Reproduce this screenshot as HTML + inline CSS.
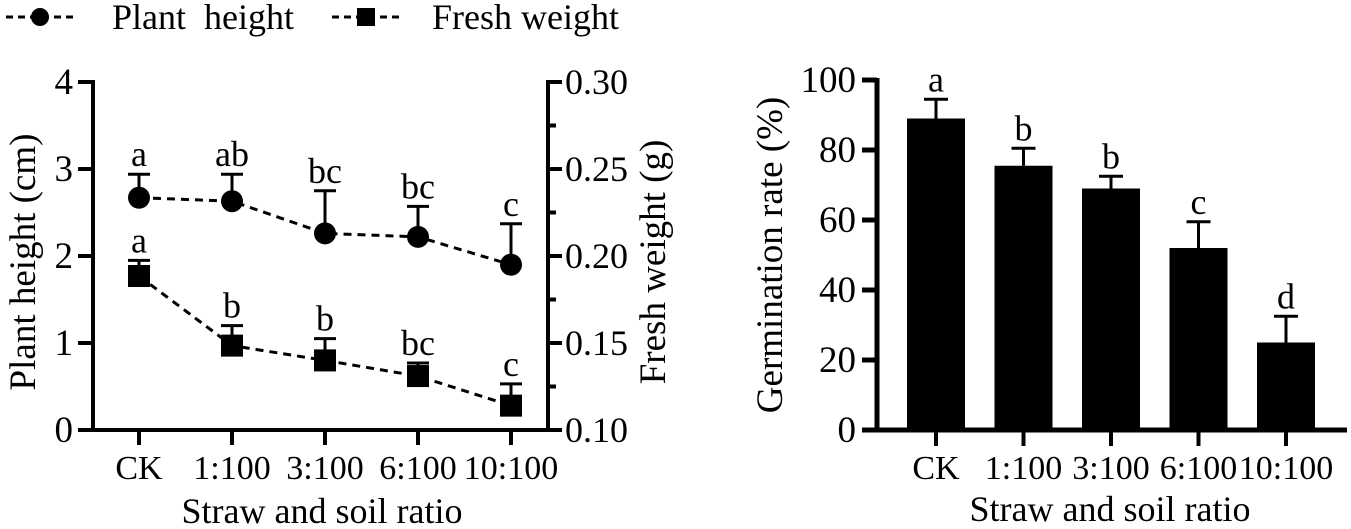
<!DOCTYPE html>
<html><head><meta charset="utf-8"><style>
body{margin:0;background:#fff;}
svg{display:block;font-family:"Liberation Serif",serif;}
</style></head><body>
<svg id="c" width="1351" height="529" viewBox="0 0 1351 529"></svg>
<script>
const categories=["CK","1:100","3:100","6:100","10:100"];
const plantHeight=[2.67,2.63,2.26,2.22,1.90];
const plantHeightErr=[0.27,0.31,0.49,0.35,0.47];
const plantHeightLetters=["a","ab","bc","bc","c"];
const freshWeight=[0.1885,0.1485,0.140,0.131,0.114];
const freshWeightErr=[0.009,0.0115,0.0125,0.0075,0.0125];
const freshWeightLetters=["a","b","b","bc","c"];
const germination=[89,75.5,69,52,25];
const germinationErr=[5.5,5,3.5,7.5,7.5];
const germinationLetters=["a","b","b","c","d"];
const leftTicks=[0,1,2,3,4];
const fwTicks=["0.10","0.15","0.20","0.25","0.30"];
const gTicks=[0,20,40,60,80,100];

const S=document.getElementById('c');
const NS='http://www.w3.org/2000/svg';
function el(t,a,txt){const e=document.createElementNS(NS,t);for(const k in a)e.setAttribute(k,a[k]);if(txt!==undefined)e.textContent=txt;S.appendChild(e);return e;}

const AX=548;
const lx=i=>139+i*93, ly=v=>430-v*87, fy=v=>430-(v-0.10)/0.20*348;
let e;
e=el('line',{x1:93,y1:80,x2:93,y2:432,stroke:'#000','stroke-width':4});

e=el('line',{x1:78,y1:430,x2:AX+2,y2:430,stroke:'#000','stroke-width':4});

e=el('line',{x1:AX,y1:80,x2:AX,y2:432,stroke:'#000','stroke-width':4});

leftTicks.forEach(v=>{
 el('line',{x1:78,y1:ly(v),x2:93,y2:ly(v),stroke:'#000','stroke-width':4});
 e=el('text',{x:73,y:ly(v)+12,'font-size':37,'text-anchor':'end'},String(v));
 
});
fwTicks.forEach((t,i)=>{
 const y=fy(parseFloat(t));
 el('line',{x1:AX,y1:y,x2:AX+14,y2:y,stroke:'#000','stroke-width':4});
 if(i<4)el('line',{x1:AX,y1:fy(parseFloat(t)+0.025),x2:AX+8,y2:fy(parseFloat(t)+0.025),stroke:'#000','stroke-width':4});
 e=el('text',{x:AX+17,y:y+12,'font-size':36},t);
 
});
categories.forEach((c,i)=>{
 el('line',{x1:lx(i),y1:430,x2:lx(i),y2:445,stroke:'#000','stroke-width':4});
 e=el('text',{x:lx(i),y:479,'font-size':34,'text-anchor':'middle'},c);
 
});
e=el('text',{x:322,y:523,'font-size':36,'text-anchor':'middle'},'Straw and soil ratio');

e=el('text',{x:0,y:0,'font-size':37,'text-anchor':'middle',transform:'translate(35,262) rotate(-90)'},'Plant height (cm)');

e=el('text',{x:0,y:0,'font-size':37,'text-anchor':'middle',transform:'translate(665,262) rotate(-90)'},'Fresh weight (g)');


e=el('polyline',{points:plantHeight.map((v,i)=>lx(i)+','+ly(v)).join(' '),fill:'none',stroke:'#000','stroke-width':3,'stroke-dasharray':'8,6'});

plantHeight.forEach((v,i)=>{
 const x=lx(i),top=ly(v+plantHeightErr[i]);
 el('line',{x1:x,y1:ly(v),x2:x,y2:top,stroke:'#000','stroke-width':3});
 el('line',{x1:x-11,y1:top,x2:x+11,y2:top,stroke:'#000','stroke-width':3});
 e=el('circle',{cx:x,cy:ly(v),r:11,fill:'#000'});
 
 e=el('text',{x:x,y:top-8,'font-size':36,'text-anchor':'middle'},plantHeightLetters[i]);
 
});
e=el('polyline',{points:freshWeight.map((v,i)=>lx(i)+','+fy(v)).join(' '),fill:'none',stroke:'#000','stroke-width':3,'stroke-dasharray':'8,6'});

freshWeight.forEach((v,i)=>{
 const x=lx(i),top=fy(v+freshWeightErr[i]);
 el('line',{x1:x,y1:fy(v),x2:x,y2:top,stroke:'#000','stroke-width':3});
 el('line',{x1:x-11,y1:top,x2:x+11,y2:top,stroke:'#000','stroke-width':3});
 e=el('rect',{x:x-11,y:fy(v)-11,width:22,height:22,fill:'#000'});
 
 e=el('text',{x:x,y:top-8,'font-size':36,'text-anchor':'middle'},freshWeightLetters[i]);
 
});

el('line',{x1:6,y1:17,x2:74,y2:17,stroke:'#000','stroke-width':3,'stroke-dasharray':'7,5'});
e=el('circle',{cx:40,cy:17,r:9,fill:'#000'});

e=el('text',{x:112,y:29,'font-size':36,style:'white-space:pre'},'Plant  height');

el('line',{x1:332,y1:17,x2:400,y2:17,stroke:'#000','stroke-width':3,'stroke-dasharray':'7,5'});
e=el('rect',{x:357,y:8,width:18,height:18,fill:'#000'});

e=el('text',{x:432,y:29,'font-size':36},'Fresh weight');


const gx=i=>936+i*87.5, gy=v=>430-v*3.5;
e=el('line',{x1:877,y1:78,x2:877,y2:432,stroke:'#000','stroke-width':5});

e=el('line',{x1:862,y1:430,x2:1347,y2:430,stroke:'#000','stroke-width':5});

gTicks.forEach(v=>{
 el('line',{x1:862,y1:gy(v),x2:877,y2:gy(v),stroke:'#000','stroke-width':5});
 e=el('text',{x:856,y:gy(v)+12,'font-size':37,'text-anchor':'end'},String(v));
 
});
germination.forEach((v,i)=>{
 const x=gx(i),top=gy(v+germinationErr[i]);
 el('line',{x1:x,y1:gy(v),x2:x,y2:top,stroke:'#000','stroke-width':3});
 el('line',{x1:x-12,y1:top,x2:x+12,y2:top,stroke:'#000','stroke-width':3});
 e=el('rect',{x:x-29,y:gy(v),width:58,height:430-gy(v),fill:'#000'});
 
 e=el('text',{x:x,y:top-8,'font-size':36,'text-anchor':'middle'},germinationLetters[i]);
 
 el('line',{x1:x,y1:430,x2:x,y2:446,stroke:'#000','stroke-width':4});
 e=el('text',{x:x,y:479,'font-size':34,'text-anchor':'middle'},categories[i]);
 
});
e=el('text',{x:1110,y:521,'font-size':36,'text-anchor':'middle'},'Straw and soil ratio');

e=el('text',{x:0,y:0,'font-size':37,'text-anchor':'middle',transform:'translate(782,255) rotate(-90)'},'Germination rate (%)');

</script>
</body></html>
